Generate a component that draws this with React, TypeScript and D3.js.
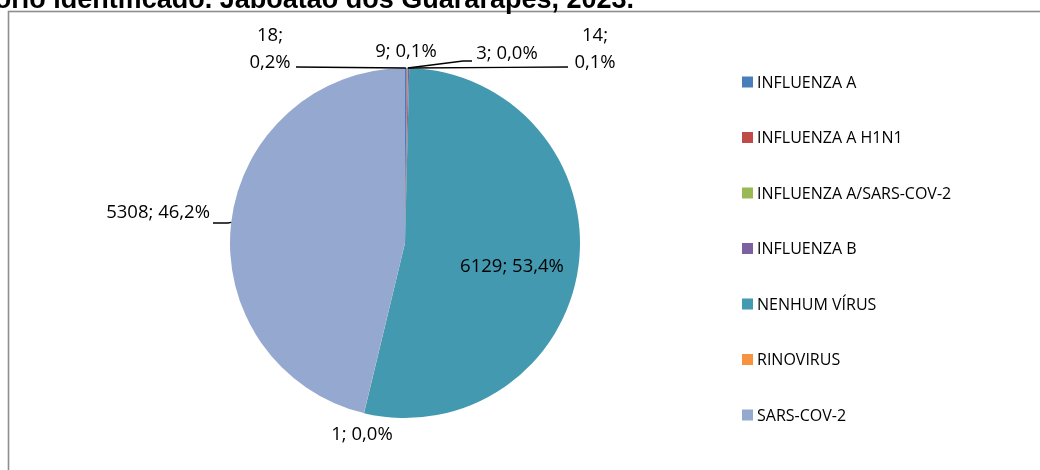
import React, { useEffect, useRef } from "react";
import * as d3 from "d3";

// casos por vírus identificado
const categories = [
  "INFLUENZA A",
  "INFLUENZA A H1N1",
  "INFLUENZA A/SARS-COV-2",
  "INFLUENZA B",
  "NENHUM VÍRUS",
  "RINOVIRUS",
  "SARS-COV-2",
];
const values = [18, 9, 3, 14, 6129, 1, 5308];
const percentLabels = ["0,2%", "0,1%", "0,0%", "0,1%", "53,4%", "0,0%", "46,2%"];
const colors = ["#4a7ebb", "#be4b48", "#98b954", "#7d60a0", "#4399b0", "#f69240", "#95a9d0"];

const titleText =
  "Distribuição dos casos notificados segundo vírus respiratório identificado. Jaboatão dos Guararapes, 2023.";

// where each data label sits (manual layout, like the original spreadsheet)
type Lbl = { x: number; y: number; lines: number; anchor: string; leader: [number, number][] };
const labelLayout: Lbl[] = [
  { x: 270, y: 41, lines: 2, anchor: "middle", leader: [[296, 67]] },
  { x: 406, y: 57, lines: 1, anchor: "middle", leader: [] },
  { x: 507, y: 59, lines: 1, anchor: "middle", leader: [[472, 61], [463, 61]] },
  { x: 595, y: 41, lines: 2, anchor: "middle", leader: [[568, 67]] },
  { x: 512, y: 272, lines: 1, anchor: "middle", leader: [] },
  { x: 362, y: 440, lines: 1, anchor: "middle", leader: [] },
  { x: 210, y: 218, lines: 1, anchor: "end", leader: [[213, 223], [228, 223]] },
];

const App = () => {
  const ref = useRef<SVGSVGElement>(null);

  useEffect(() => {
    const svg = d3.select(ref.current);
    svg.selectAll("*").remove();

    // moldura
    svg.append("rect")
      .attr("x", 8.5).attr("y", 11.5)
      .attr("width", 1200).attr("height", 700)
      .attr("fill", "#fff")
      .attr("stroke", "#8e8e8e").attr("stroke-width", 1.6);

    // título (cortado no topo)
    svg.append("text")
      .attr("x", 634).attr("y", 8)
      .attr("text-anchor", "end")
      .attr("font-family", "Liberation Sans, Arial, sans-serif")
      .attr("font-weight", "bold")
      .attr("font-size", 27)
      .text(titleText);

    const cx = 405, cy = 243, r = 175;
    const g = svg.append("g").attr("transform", `translate(${cx},${cy})`);

    const pie = d3.pie<number>().sort(null).value(d => d);
    const arcs = pie(values);
    const arc = d3.arc<d3.PieArcDatum<number>>().innerRadius(0).outerRadius(r);

    g.selectAll("path.slice")
      .data(arcs)
      .join("path")
      .attr("class", "slice")
      .attr("d", arc)
      .attr("fill", (d, i) => colors[i]);

    // pontos na borda para as linhas de chamada
    const edge = (d: d3.PieArcDatum<number>) => {
      const a = (d.startAngle + d.endAngle) / 2;
      return [cx + r * Math.sin(a), cy - r * Math.cos(a)] as [number, number];
    };

    const line = d3.line();
    arcs.forEach((d, i) => {
      const lay = labelLayout[i];
      if (lay.leader.length) {
        svg.append("path")
          .attr("d", line([...lay.leader, edge(d)]))
          .attr("fill", "none")
          .attr("stroke", "#000")
          .attr("stroke-width", 1.4);
      }
      const txt = svg.append("text")
        .attr("text-anchor", lay.anchor)
        .attr("font-family", "Open Sans, sans-serif")
        .attr("font-size", 18.5)
        .attr("fill", "#000");
      if (lay.lines === 2) {
        txt.append("tspan").attr("x", lay.x).attr("y", lay.y).text(`${values[i]};`);
        txt.append("tspan").attr("x", lay.x).attr("y", lay.y + 27).text(percentLabels[i]);
      } else {
        txt.attr("x", lay.x).attr("y", lay.y).text(`${values[i]}; ${percentLabels[i]}`);
      }
    });

    // legenda
    const ly = d3.scalePoint<string>().domain(categories).range([82, 415]);
    const leg = svg.append("g")
      .selectAll("g")
      .data(categories)
      .join("g")
      .attr("transform", d => `translate(742,${ly(d)})`);
    leg.append("rect")
      .attr("x", 0).attr("y", -5.5)
      .attr("width", 11).attr("height", 11)
      .attr("fill", (d, i) => colors[i]);
    leg.append("text")
      .attr("x", 15).attr("y", 5.5)
      .attr("font-family", "Open Sans, sans-serif")
      .attr("font-size", 16)
      .attr("fill", "#000")
      .text(d => d);
  }, []);

  return (
    <div style={{ position: "fixed", left: 0, top: 0 }}>
      <svg ref={ref} width={1040} height={470} style={{ display: "block" }} />
    </div>
  );
};

export default App;
